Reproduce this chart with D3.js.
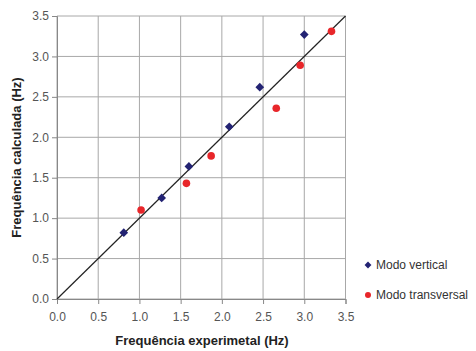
<!DOCTYPE html>
<html lang="pt">
<head>
    <meta charset="UTF-8">
    <title>Frequência calculada vs experimental</title>
    <script src="https://d3js.org/d3.v7.min.js"></script>
    <style>
        body { margin: 0; background: #fff; }
        .grid line { stroke: #a8a8a8; stroke-width: 1; }
        .axis path, .axis line { stroke: #888; }
        .axis text { font-family: Arial, "Liberation Sans", sans-serif; font-size: 12px; fill: #555; }
        .title { font-family: Arial, "Liberation Sans", sans-serif; font-size: 13px; font-weight: bold; fill: #222; }
        .legend text { font-family: Arial, "Liberation Sans", sans-serif; font-size: 12px; fill: #333; }
    </style>
</head>
<body>
<script>
    // dados
    const ticks = [0, 0.5, 1.0, 1.5, 2.0, 2.5, 3.0, 3.5];
    const verticalX = [0.81, 1.27, 1.60, 2.09, 2.46, 3.00];
    const verticalY = [0.82, 1.25, 1.64, 2.13, 2.62, 3.27];
    const transvX = [1.02, 1.57, 1.87, 2.66, 2.95, 3.33];
    const transvY = [1.10, 1.43, 1.77, 2.36, 2.89, 3.31];
    const seriesNames = ["Modo vertical", "Modo transversal"];

    const W = 476, H = 351;
    const svg = d3.select("body").append("svg").attr("width", W).attr("height", H);

    const x = d3.scaleLinear().domain([0, 3.5]).range([57, 345.5]);
    const y = d3.scaleLinear().domain([0, 3.5]).range([299, 16]);

    /* grade */
    const grid = svg.append("g").attr("class", "grid");
    grid.selectAll(".gx").data(ticks).enter().append("line")
        .attr("x1", d => x(d)).attr("x2", d => x(d))
        .attr("y1", y(0)).attr("y2", y(3.5));
    grid.selectAll(".gy").data(ticks).enter().append("line")
        .attr("x1", x(0)).attr("x2", x(3.5))
        .attr("y1", d => y(d)).attr("y2", d => y(d));

    /* eixos */
    svg.append("g").attr("class", "axis")
        .attr("transform", `translate(0, ${y(0)})`)
        .call(d3.axisBottom(x).tickValues(ticks).tickFormat(d3.format(".1f")).tickSize(5).tickPadding(8));
    svg.append("g").attr("class", "axis")
        .attr("transform", `translate(${x(0)}, 0)`)
        .call(d3.axisLeft(y).tickValues(ticks).tickFormat(d3.format(".1f")).tickSize(5).tickPadding(3));

    /* linha y = x */
    svg.append("line")
        .attr("x1", x(0)).attr("y1", y(0))
        .attr("x2", x(3.5)).attr("y2", y(3.5))
        .attr("stroke", "#222").attr("stroke-width", 1.2);

    /* pontos */
    const vData = verticalX.map((d, i) => [d, verticalY[i]]);
    const tData = transvX.map((d, i) => [d, transvY[i]]);
    const diamond = d3.symbol().type(d3.symbolDiamond2).size(48);

    svg.append("g").selectAll("path").data(vData).enter().append("path")
        .attr("d", diamond)
        .attr("transform", d => `translate(${x(d[0])}, ${y(d[1])})`)
        .attr("fill", "#232373");
    svg.append("g").selectAll("circle").data(tData).enter().append("circle")
        .attr("cx", d => x(d[0])).attr("cy", d => y(d[1])).attr("r", 3.8)
        .attr("fill", "#e8262a");

    /* títulos */
    svg.append("text").attr("class", "title")
        .attr("x", 202).attr("y", 345)
        .attr("text-anchor", "middle")
        .text("Frequência experimetal (Hz)");
    svg.append("text").attr("class", "title")
        .attr("transform", `translate(21, ${(y(0) + y(3.5)) / 2}) rotate(-90)`)
        .attr("text-anchor", "middle")
        .text("Frequência calculada (Hz)");

    /* legenda */
    const lg = svg.append("g").attr("class", "legend");
    lg.append("path").attr("d", d3.symbol().type(d3.symbolDiamond2).size(30))
        .attr("transform", "translate(368, 265)").attr("fill", "#232373");
    lg.append("circle").attr("cx", 368).attr("cy", 295).attr("r", 3).attr("fill", "#e8262a");
    lg.selectAll("text").data(seriesNames).enter().append("text")
        .attr("x", 376).attr("y", (d, i) => 269 + i * 30)
        .text(d => d);
</script>
</body>
</html>
